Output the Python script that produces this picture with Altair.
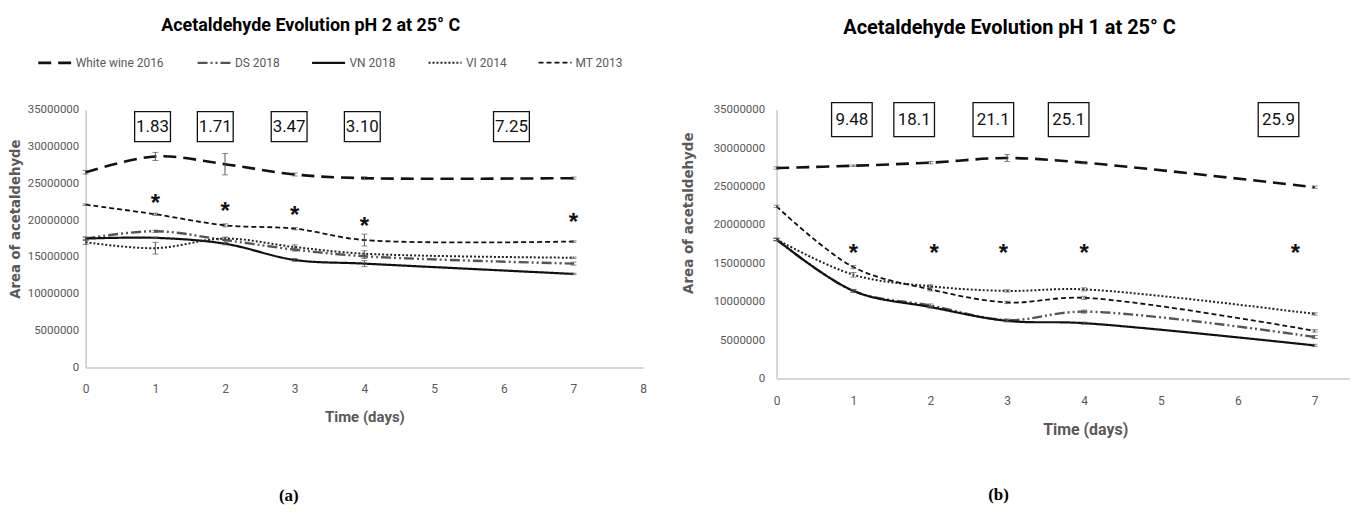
import altair as alt
import pandas as pd

# ---------------- data ----------------
days = [0, 1, 2, 3, 4, 7]
series_names = ["White wine 2016", "DS 2018", "VN 2018", "VI 2014", "MT 2013"]

# panel (a): pH 2 at 25 C
ph2_white_wine_2016 = [26500000, 28650000, 27600000, 26200000, 25700000, 25700000]
ph2_ds_2018 = [17500000, 18500000, 17300000, 16000000, 15100000, 14100000]
ph2_vn_2018 = [17500000, 17600000, 16800000, 14600000, 14100000, 12700000]
ph2_vi_2014 = [17000000, 16200000, 17500000, 16350000, 15450000, 14900000]
ph2_mt_2013 = [22100000, 20800000, 19300000, 18850000, 17300000, 17100000]

ph2_err_white_wine_2016 = [250000, 550000, 1450000, 200000, 200000, 150000]
ph2_err_ds_2018 = [200000, 150000, 300000, 200000, 300000, 200000]
ph2_err_vn_2018 = [200000, 100000, 150000, 200000, 400000, 100000]
ph2_err_vi_2014 = [300000, 800000, 200000, 300000, 400000, 100000]
ph2_err_mt_2013 = [100000, 150000, 200000, 150000, 800000, 100000]

ph2_star_days = [1, 2, 3, 4, 7]
ph2_star_levels = [22900000, 21750000, 21300000, 19800000, 20300000]

ph2_box_days = [0.96, 1.86, 2.92, 3.97, 6.11]
ph2_box_labels = ["1.83", "1.71", "3.47", "3.10", "7.25"]
ph2_box_levels = [32700000, 32700000, 32700000, 32700000, 32700000]

# panel (b): pH 1 at 25 C
ph1_white_wine_2016 = [27400000, 27700000, 28100000, 28700000, 28100000, 24900000]
ph1_ds_2018 = [18100000, 11400000, 9500000, 7600000, 8700000, 5400000]
ph1_vn_2018 = [18100000, 11400000, 9300000, 7500000, 7200000, 4300000]
ph1_vi_2014 = [18100000, 13500000, 12000000, 11400000, 11600000, 8400000]
ph1_mt_2013 = [22400000, 14500000, 11600000, 9900000, 10500000, 6200000]

ph1_err_white_wine_2016 = [150000, 100000, 150000, 450000, 150000, 150000]
ph1_err_ds_2018 = [150000, 150000, 200000, 150000, 200000, 200000]
ph1_err_vn_2018 = [150000, 200000, 150000, 150000, 150000, 150000]
ph1_err_vi_2014 = [150000, 300000, 200000, 150000, 200000, 150000]
ph1_err_mt_2013 = [150000, 200000, 200000, 150000, 200000, 150000]

ph1_star_days = [1, 2.05, 2.95, 4, 6.75]
ph1_star_levels = [16900000, 16900000, 16900000, 16900000, 16900000]

ph1_box_days = [0.98, 1.79, 2.82, 3.8, 6.53]
ph1_box_labels = ["9.48", "18.1", "21.1", "25.1", "25.9"]
ph1_box_levels = [33700000, 33700000, 33700000, 33700000, 33700000]

y_ticks = [0, 5000000, 10000000, 15000000, 20000000, 25000000, 30000000, 35000000]

# ---------------- styles ----------------
SANS = "Roboto, Liberation Sans, sans-serif"
GREY = "#595959"
dash_range = [[13, 7], [10, 3, 2, 3, 2, 3], [1, 0], [2, 2], [5, 3]]
color_range = ["#111111", "#555555", "#111111", "#222222", "#111111"]
width_range = [2.6, 1.8, 2.2, 1.8, 2.6]


def build_frames(values, errors):
    rows, erows = [], []
    for name, vals, errs in zip(series_names, values, errors):
        for d, v, e in zip(days, vals, errs):
            rows.append({"day": d, "area": v, "series": name})
            erows.append({"day": d, "low": v - e, "high": v + e, "series": name})
    return pd.DataFrame(rows), pd.DataFrame(erows)


def panel(values, errors, star_days, star_levels, box_days, box_labels, box_levels,
          x_max, x_ticks, w, h, show_legend, title_text, title_size, title_offset,
          box_size, caption, caption_x, caption_y, lab_pad_y, title_pad_y, title_y,
          y_title_size, x_title_x, x_title_size, x_lab_pad, x_title_pad):
    line_df, err_df = build_frames(values, errors)
    star_df = pd.DataFrame({"day": star_days, "level": star_levels})
    box_df = pd.DataFrame({"day": box_days, "level": box_levels, "label": box_labels})

    xs = alt.Scale(domain=[0, x_max], nice=False, zero=False)
    ys = alt.Scale(domain=[0, 35000000], nice=False)

    x_axis_kw = dict(values=x_ticks, format="d", title="Time (days)", titleFont=SANS,
                     titleFontSize=x_title_size, titleFontWeight="bold", titleColor=GREY,
                     labelFont=SANS, labelFontSize=12, labelColor=GREY,
                     labelPadding=x_lab_pad, titlePadding=x_title_pad, ticks=False, grid=False,
                     domainColor="#c8c8c8", domainWidth=1.5, labelFlush=False,
                     labelOverlap=False)
    if x_title_x is not None:
        x_axis_kw["titleX"] = x_title_x
    y_axis_kw = dict(values=y_ticks, format="d", title="Area of acetaldehyde", titleFont="DejaVu Sans",
                     titleFontSize=y_title_size, titleFontWeight="bold", titleColor=GREY,
                     labelFont=SANS, labelFontSize=11.5, labelColor=GREY, labelPadding=lab_pad_y,
                     titlePadding=title_pad_y, titleY=title_y, ticks=False, grid=False,
                     domainColor="#c8c8c8", domainWidth=1.5, labelOverlap=False)

    def xe():
        return alt.X("day:Q", scale=xs, axis=alt.Axis(**x_axis_kw))

    def ye(field):
        return alt.Y(field, scale=ys, axis=alt.Axis(**y_axis_kw))

    if show_legend:
        leg = alt.Legend(orient="none", legendX=-49, legendY=-65, direction="horizontal",
                         symbolType="stroke", symbolSize=1100, title=None,
                         labelFont=SANS, labelFontSize=12, labelColor=GREY,
                         columnPadding=28, labelOffset=3)
    else:
        leg = None

    lines = alt.Chart(line_df).mark_line(interpolate="catmull-rom").encode(
        x=xe(), y=ye("area:Q"),
        strokeDash=alt.StrokeDash("series:N", scale=alt.Scale(domain=series_names, range=dash_range), legend=leg),
        color=alt.Color("series:N", scale=alt.Scale(domain=series_names, range=color_range), legend=leg),
        strokeWidth=alt.StrokeWidth("series:N", scale=alt.Scale(domain=series_names, range=width_range), legend=leg),
    )

    err_rule = alt.Chart(err_df).mark_rule(color="#555555", strokeWidth=1).encode(
        x=xe(), y=ye("low:Q"), y2="high:Q")
    cap_lo = alt.Chart(err_df).mark_tick(orient="horizontal", size=6, thickness=1, color="#555555").encode(
        x=xe(), y=ye("low:Q"))
    cap_hi = alt.Chart(err_df).mark_tick(orient="horizontal", size=6, thickness=1, color="#555555").encode(
        x=xe(), y=ye("high:Q"))

    stars = alt.Chart(star_df).mark_text(text="*", font="Liberation Sans", fontSize=24, fontWeight="bold",
                                         color="#111111", baseline="middle", dy=5).encode(
        x=xe(), y=ye("level:Q"))

    boxes = alt.Chart(box_df).mark_point(shape="M-1.2,-1H1.2V1H-1.2Z", size=box_size, filled=True,
                                         fill="white", stroke="#111111", strokeWidth=1.3, opacity=1).encode(
        x=xe(), y=ye("level:Q"))
    box_text = alt.Chart(box_df).mark_text(font=SANS, fontSize=17, color="#111111", baseline="middle").encode(
        x=xe(), y=ye("level:Q"), text="label:N")

    cap = alt.Chart(pd.DataFrame({"cap": [caption]})).mark_text(
        font="Liberation Serif", fontSize=17, fontWeight="bold", color="black", baseline="middle").encode(
        x=alt.value(caption_x), y=alt.value(caption_y), text="cap:N")

    return alt.layer(lines, err_rule, cap_lo, cap_hi, stars, boxes, box_text, cap).properties(
        width=w, height=h,
        title=alt.TitleParams(text=title_text, font=SANS, fontSize=title_size, fontWeight="bold",
                              color="black", anchor="middle", dx=-54, offset=title_offset),
    )


left = panel([ph2_white_wine_2016, ph2_ds_2018, ph2_vn_2018, ph2_vi_2014, ph2_mt_2013],
             [ph2_err_white_wine_2016, ph2_err_ds_2018, ph2_err_vn_2018, ph2_err_vi_2014, ph2_err_mt_2013],
             ph2_star_days, ph2_star_levels, ph2_box_days, ph2_box_labels, ph2_box_levels,
             8, [0, 1, 2, 3, 4, 5, 6, 7, 8], 560, 259, True,
             "Acetaldehyde Evolution pH 2 at 25° C", 18, 10.5, 900, "(a)", 204, 388,
             7, 5, 109.5, 13.3, None, 15, 16, 15)

right = panel([ph1_white_wine_2016, ph1_ds_2018, ph1_vn_2018, ph1_vi_2014, ph1_mt_2013],
              [ph1_err_white_wine_2016, ph1_err_ds_2018, ph1_err_vn_2018, ph1_err_vi_2014, ph1_err_mt_2013],
              ph1_star_days, ph1_star_levels, ph1_box_days, ph1_box_labels, ph1_box_levels,
              7.46, [0, 1, 2, 3, 4, 5, 6, 7], 576, 270, False,
              "Acetaldehyde Evolution pH 1 at 25° C", 20, 62, 1156, "(b)", 223, 387,
              12, 17.5, 103.5, 13.5, 310, 16, 17, 15)

chart = alt.hconcat(left, right, spacing=34).resolve_scale(
    color="independent", strokeDash="independent", strokeWidth="independent"
).resolve_legend(color="independent", strokeDash="independent", strokeWidth="independent").properties(
    padding={"left": 0, "top": 7, "right": 0, "bottom": 0}
).configure_view(stroke=None).configure_axis(labelOverlap=False)

chart.save("out.html", embed_options={"renderer": "svg", "actions": False})
